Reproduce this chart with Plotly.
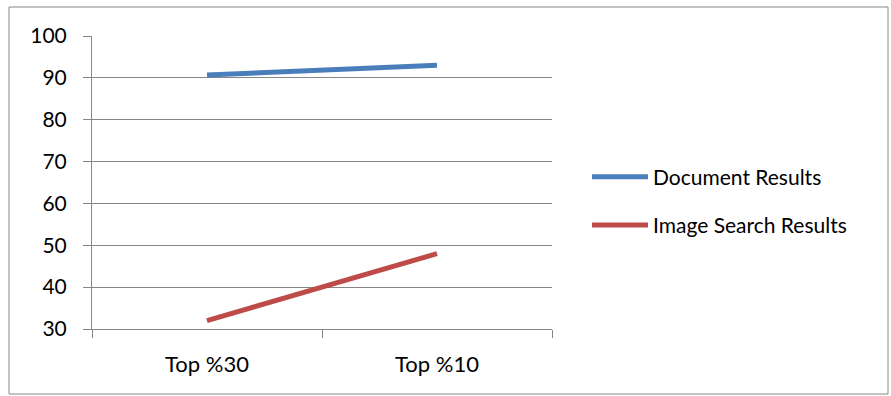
import plotly.graph_objects as go

# Retrieval precision for the two result sets at two cut-offs
categories = ["Top %30", "Top %10"]
document_results = [90.7, 93.0]
image_search_results = [32.0, 48.0]

FONT = "Lato"
AXIS_GREY = "#868686"

fig = go.Figure()
fig.add_trace(go.Scatter(
    x=categories, y=document_results, mode="lines",
    name="Document Results", legendgroup="doc",
    line=dict(color="#4A7EBB", width=5),
))
fig.add_trace(go.Scatter(
    x=categories, y=image_search_results, mode="lines",
    name="Image Search Results", legendgroup="img",
    line=dict(color="#BE4B48", width=5),
))

fig.update_layout(
    width=891, height=396,
    margin=dict(l=92, r=339, t=36, b=67),
    paper_bgcolor="white", plot_bgcolor="white",
    font=dict(family=FONT, size=21, color="black"),
    showlegend=True,
    legend=dict(
        x=(587 - 92) / 460, y=(329 - 201) / 293, xanchor="left", yanchor="middle",
        itemwidth=56, tracegroupgap=18,
        font=dict(family=FONT, size=21, color="black"),
        bgcolor="rgba(0,0,0,0)",
    ),
    xaxis=dict(
        type="category", range=[-0.5, 1.5],
        showgrid=False, showline=True, linecolor=AXIS_GREY, linewidth=1,
        ticks="outside", tickson="boundaries", ticklen=8, tickcolor=AXIS_GREY,
        tickfont=dict(family=FONT, size=22), ticklabelstandoff=16,
    ),
    yaxis=dict(
        range=[30, 100], dtick=10, tick0=30,
        showgrid=True, gridcolor=AXIS_GREY, gridwidth=1,
        showline=True, linecolor=AXIS_GREY, linewidth=1,
        ticks="outside", ticklen=8, tickcolor=AXIS_GREY,
        tickfont=dict(family=FONT, size=21), ticklabelstandoff=12,
        zeroline=False,
    ),
    shapes=[dict(
        type="rect", xref="paper", yref="paper",
        x0=-83 / 460, x1=796 / 460, y0=-65 / 293, y1=322 / 293,
        line=dict(color=AXIS_GREY, width=1), fillcolor="rgba(0,0,0,0)",
        layer="below",
    )],
)

fig.write_html("out.html")
